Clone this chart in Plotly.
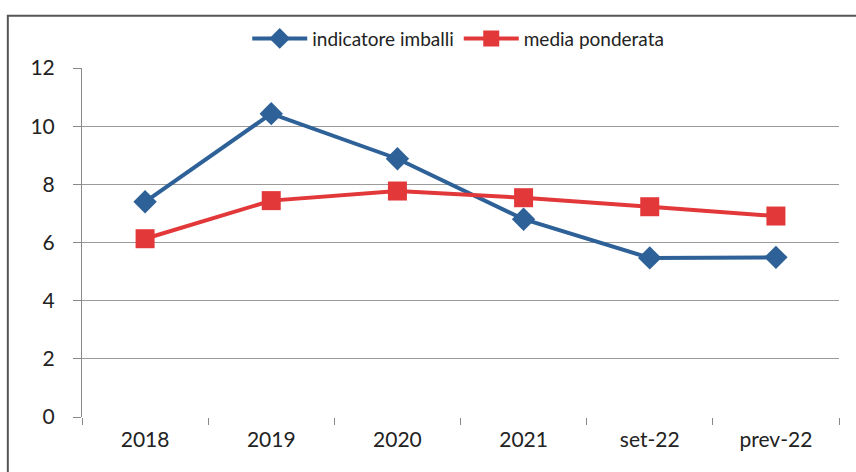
import plotly.graph_objects as go

categories = ["2018", "2019", "2020", "2021", "set-22", "prev-22"]
indicatore_imballi = [7.4, 10.43, 8.88, 6.8, 5.47, 5.49]
media_ponderata = [6.13, 7.44, 7.77, 7.54, 7.23, 6.91]
y_ticks = [0, 2, 4, 6, 8, 10, 12]

FONT = "Lato, Open Sans, sans-serif"
BLUE = "#2d6197"
RED = "#e2383a"

fig = go.Figure()
fig.add_trace(go.Scatter(
    x=categories, y=indicatore_imballi, name="indicatore imballi",
    mode="lines+markers",
    line=dict(color=BLUE, width=4),
    marker=dict(symbol="diamond", size=18, color=BLUE),
))
fig.add_trace(go.Scatter(
    x=categories, y=media_ponderata, name="media ponderata",
    mode="lines+markers",
    line=dict(color=RED, width=4),
    marker=dict(symbol="square", size=19, color=RED),
))

fig.update_layout(
    width=856, height=472,
    margin=dict(l=82, r=17, t=68, b=55),
    paper_bgcolor="white", plot_bgcolor="white",
    font=dict(family=FONT, size=21, color="#222"),
    showlegend=True,
    legend=dict(orientation="h", x=0.497, xanchor="center", y=1.03, yanchor="bottom",
                yref="paper", font=dict(size=19, color="#222"),
                bgcolor="rgba(0,0,0,0)", itemwidth=55, tracegroupgap=0),
    xaxis=dict(
        type="category", tickson="boundaries", ticks="outside", ticklen=7,
        tickcolor="#888", showgrid=False, showline=False, zeroline=False,
        range=[-0.5, 5.5], tickfont=dict(size=21), ticklabelstandoff=8,
    ),
    yaxis=dict(
        range=[0, 12], tickvals=y_ticks, ticks="outside", ticklen=8,
        tickcolor="#888", showgrid=True, gridcolor="#9a9a9a", gridwidth=1,
        showline=True, linecolor="#888", linewidth=1, zeroline=False,
        tickfont=dict(size=21), ticklabelstandoff=14,
    ),
    shapes=[
        # outer chart frame
        dict(type="rect", xref="paper", yref="paper",
             x0=-0.098, x1=1.05, y0=-0.3, y1=1.15,
             line=dict(color="#555", width=2), fillcolor="rgba(0,0,0,0)", layer="below"),
    ],
)

fig.write_html("out.html")
